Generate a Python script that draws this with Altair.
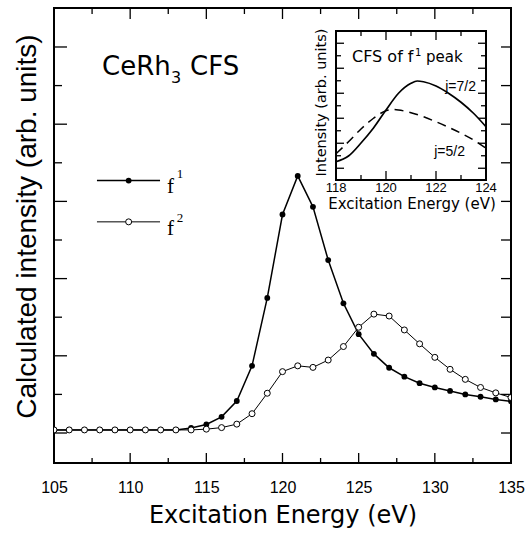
import altair as alt
import pandas as pd

# ---- main spectra (1 eV steps) ----
energy = list(range(105, 136))
f1_intensity = [0.08, 0.08, 0.08, 0.08, 0.08, 0.08, 0.08, 0.08, 0.08,
                0.13, 0.22, 0.42, 0.83, 1.74, 3.50, 5.66, 6.66, 5.86, 4.48,
                3.36, 2.56, 2.05, 1.69, 1.46, 1.29, 1.18, 1.09, 1.00, 0.94,
                0.87, 0.82]
f2_intensity = [0.08, 0.08, 0.08, 0.08, 0.08, 0.08, 0.08, 0.08, 0.08,
                0.08, 0.10, 0.14, 0.23, 0.50, 1.03, 1.59, 1.74, 1.70, 1.89,
                2.24, 2.74, 3.08, 3.03, 2.67, 2.31, 1.96, 1.65, 1.39, 1.18,
                1.04, 0.92]

# ---- inset: crystal-field split f1 peak ----
j72_energy = [118, 118.5, 119, 119.5, 120, 120.5, 121, 121.25, 121.5, 122,
              122.5, 123, 123.5, 124]
j72_intensity = [0.26, 0.49, 1.01, 1.61, 2.33, 3.00, 3.40, 3.49, 3.46, 3.29,
                 3.00, 2.64, 2.20, 1.66]
j52_energy = [118, 118.5, 119, 119.5, 120, 120.25, 120.5, 121, 121.5, 122,
              122.5, 123, 123.5, 124]
j52_intensity = [0.58, 1.06, 1.57, 2.00, 2.30, 2.35, 2.33, 2.22, 2.06, 1.86,
                 1.64, 1.40, 1.13, 0.80]

# ---- tick values ----
x_major = [105, 110, 115, 120, 125, 130, 135]
x_minor = [107.5, 112.5, 117.5, 122.5, 127.5, 132.5]
y_long = [0, 2, 4, 6, 8, 10]
y_short = [1, 3, 5, 7, 9]
inset_x_major = [118, 120, 122, 124]
inset_x_minor = [119, 121, 123]
inset_y_major = [0, 1, 2, 3, 4, 5]
inset_y_minor = [0.5, 1.5, 2.5, 3.5, 4.5]

# ---- layout ----
W, H = 457, 455
X_DOM = [105, 135]
Y_DOM = [-0.777, 11.01]
IN_X_DOM = [118, 124]
IN_Y_DOM = [-0.47, 5.49]
IN_X_RANGE = [282, 432]
IN_Y_RANGE = [172, 23]
SANS = "Liberation Sans"
WIDE = "DejaVu Sans"
SERIF = "Liberation Serif"

xs = alt.Scale(domain=X_DOM, nice=False, zero=False)
ys = alt.Scale(domain=Y_DOM, nice=False, zero=False)
ixs = alt.Scale(domain=IN_X_DOM, range=IN_X_RANGE, nice=False, zero=False)
iys = alt.Scale(domain=IN_Y_DOM, range=IN_Y_RANGE, nice=False, zero=False)

x_axis = alt.Axis(values=x_major, format="d", labelFont=SANS, labelFontSize=16,
                  labelColor="black", labelPadding=16, labelFlush=False,
                  labelOverlap=False, ticks=False, tickSize=0,
                  domain=False, grid=False, title="Excitation Energy (eV)",
                  titleFont=WIDE, titleFontSize=24, titleFontWeight="normal",
                  titleColor="black", titleX=W / 2, titleY=59,
                  titleBaseline="alphabetic", titleAlign="center")
y_axis = alt.Axis(labels=False, ticks=False, tickSize=0, domain=False, grid=False,
                  title="Calculated intensity (arb. units)", titleFont=SANS,
                  titleFontSize=28, titleFontWeight="normal", titleColor="black",
                  titleAngle=270, titleX=-19, titleY=218,
                  titleBaseline="alphabetic", titleAlign="center")


def MX(field):
    return alt.X(field, type="quantitative", scale=xs, axis=x_axis)


def MY(field):
    return alt.Y(field, type="quantitative", scale=ys, axis=y_axis)


def one():
    return pd.DataFrame({"k": [0]})


# ---- main frame ticks (inward) ----
def xticks(values, y0, y1):
    return alt.Chart(pd.DataFrame({"v": values})).mark_rule(
        color="black", strokeWidth=1.3).encode(
        x=MX("v"), y=alt.value(y0), y2=alt.value(y1))


def yticks(values, x0, x1):
    return alt.Chart(pd.DataFrame({"v": values})).mark_rule(
        color="black", strokeWidth=1.3).encode(
        y=MY("v"), x=alt.value(x0), x2=alt.value(x1))


tick_layers = [
    xticks(x_major, H, H - 10), xticks(x_minor, H, H - 5),
    xticks(x_major, 0, 11), xticks(x_minor, 0, 6),
    yticks(y_long, 0, 13), yticks(y_short, 0, 8),
    yticks(y_long + y_short, W, W - 10),
]

main_df = pd.DataFrame({"E": energy, "f1": f1_intensity, "f2": f2_intensity})
base = alt.Chart(main_df)

f1_line = base.mark_line(color="black", strokeWidth=1.5).encode(x=MX("E"), y=MY("f1"))
f1_pts = base.mark_point(shape="circle", filled=True, color="black", size=34,
                         opacity=1, clip=True).encode(x=MX("E"), y=MY("f1"))
f2_line = base.mark_line(color="black", strokeWidth=1).encode(x=MX("E"), y=MY("f2"))
f2_pts = base.mark_point(shape="circle", fill="white", fillOpacity=1, stroke="black",
                         strokeWidth=1, size=36, opacity=1, clip=True).encode(
    x=MX("E"), y=MY("f2"))


def main_text(text, x, y, size, font, align="left"):
    return alt.Chart(one()).mark_text(
        text=text, font=font, fontSize=size, align=align,
        baseline="alphabetic", color="black").encode(
        x=alt.XDatum(x, scale=xs, axis=x_axis), y=alt.YDatum(y, scale=ys, axis=y_axis))


def legend_entry(y, filled, width):
    line = alt.Chart(one()).mark_rule(color="black", strokeWidth=width).encode(
        x=alt.XDatum(107.82, scale=xs, axis=x_axis), x2=alt.X2Datum(111.96),
        y=alt.YDatum(y, scale=ys, axis=y_axis))
    if filled:
        pt = alt.Chart(one()).mark_point(shape="circle", filled=True, color="black",
                                          size=34, opacity=1)
    else:
        pt = alt.Chart(one()).mark_point(shape="circle", fill="white", fillOpacity=1,
                                          stroke="black", strokeWidth=1, size=36,
                                          opacity=1)
    pt = pt.encode(x=alt.XDatum(109.9, scale=xs, axis=x_axis),
                   y=alt.YDatum(y, scale=ys, axis=y_axis))
    return [line, pt]


text_layers = [
    main_text("CeRh", 108.15, 9.27, 26, WIDE),
    main_text("3", 112.68, 9.07, 16, WIDE),
    main_text("CFS", 113.93, 9.27, 26, WIDE),
    main_text("f", 112.42, 6.22, 21, SERIF),
    main_text("1", 113.05, 6.61, 13, SERIF),
    main_text("f", 112.42, 5.13, 21, SERIF),
    main_text("2", 113.05, 5.47, 13, SERIF),
]
legend_layers = legend_entry(6.54, True, 1.5) + legend_entry(5.47, False, 1)

main = alt.layer(*tick_layers, f1_line, f1_pts, f2_line, f2_pts,
                 *legend_layers, *text_layers)

# ---- inset ----
IX = lambda f: alt.X(f, type="quantitative", scale=ixs, axis=None)
IY = lambda f: alt.Y(f, type="quantitative", scale=iys, axis=None)

inset_frame = alt.Chart(one()).mark_rect(fill="white", stroke="black",
                                         strokeWidth=2).encode(
    x=alt.XDatum(IN_X_DOM[0], scale=ixs, axis=None), x2=alt.X2Datum(IN_X_DOM[1]),
    y=alt.YDatum(IN_Y_DOM[0], scale=iys, axis=None), y2=alt.Y2Datum(IN_Y_DOM[1]))

y_bot, y_top = IN_Y_RANGE
x_left, x_right = IN_X_RANGE


def ixticks(values, y0, y1):
    return alt.Chart(pd.DataFrame({"v": values})).mark_rule(
        color="black", strokeWidth=1.3).encode(x=IX("v"), y=alt.value(y0), y2=alt.value(y1))


def iyticks(values, x0, x1):
    return alt.Chart(pd.DataFrame({"v": values})).mark_rule(
        color="black", strokeWidth=1.3).encode(y=IY("v"), x=alt.value(x0), x2=alt.value(x1))


inset_ticks = [
    ixticks(inset_x_major, y_bot, y_bot - 9), ixticks(inset_x_minor, y_bot, y_bot - 5),
    ixticks(inset_x_major, y_top, y_top + 9), ixticks(inset_x_minor, y_top, y_top + 5),
    iyticks(inset_y_major, x_left, x_left + 8), iyticks(inset_y_minor, x_left, x_left + 5),
    iyticks(inset_y_major, x_right, x_right - 8), iyticks(inset_y_minor, x_right, x_right - 5),
]

j72_line = alt.Chart(pd.DataFrame({"E": j72_energy, "I": j72_intensity})).mark_line(
    color="black", strokeWidth=1.7, interpolate="monotone").encode(x=IX("E"), y=IY("I"))
j52_line = alt.Chart(pd.DataFrame({"E": j52_energy, "I": j52_intensity})).mark_line(
    color="black", strokeWidth=1.5, strokeDash=[9, 6], interpolate="monotone").encode(
    x=IX("E"), y=IY("I"))

inset_tick_labels = alt.Chart(pd.DataFrame({"v": inset_x_major})).mark_text(
    font=SANS, fontSize=13, baseline="alphabetic", color="black").encode(
    x=IX("v"), y=alt.value(y_bot + 12), text=alt.Text("v:Q", format="d"))


def ptext(text, x, y, size, font, align="left", angle=0):
    return alt.Chart(one()).mark_text(
        text=text, font=font, fontSize=size, align=align, baseline="alphabetic",
        angle=angle, color="black").encode(x=alt.value(x), y=alt.value(y))


inset_texts = [
    ptext("CFS of f", 298, 54.3, 16, WIDE),
    ptext("1", 361, 47.7, 10, WIDE),
    ptext("peak", 372, 54.3, 15, WIDE),
    ptext("j=7/2", 422, 83, 14, SANS, align="right"),
    ptext("j=5/2", 411, 147.7, 14, SANS, align="right"),
    ptext("Excitation Energy (eV)", 358, 201, 15, WIDE, align="center"),
    ptext("Intensity (arb. units)", 272, 94.5, 14.5, WIDE, align="center", angle=270),
]

inset = alt.layer(inset_frame, *inset_ticks, j72_line, j52_line,
                  inset_tick_labels, *inset_texts)

chart = alt.layer(main, inset).resolve_scale(
    x="independent", y="independent").properties(
    width=W, height=H,
    padding={"left": 54, "top": 8, "right": 16, "bottom": 74},
    autosize=alt.AutoSizeParams(type="none"),
    background="white",
).configure_view(stroke="black", strokeWidth=2)

chart.save("out.html", embed_options={"renderer": "svg", "actions": False})
